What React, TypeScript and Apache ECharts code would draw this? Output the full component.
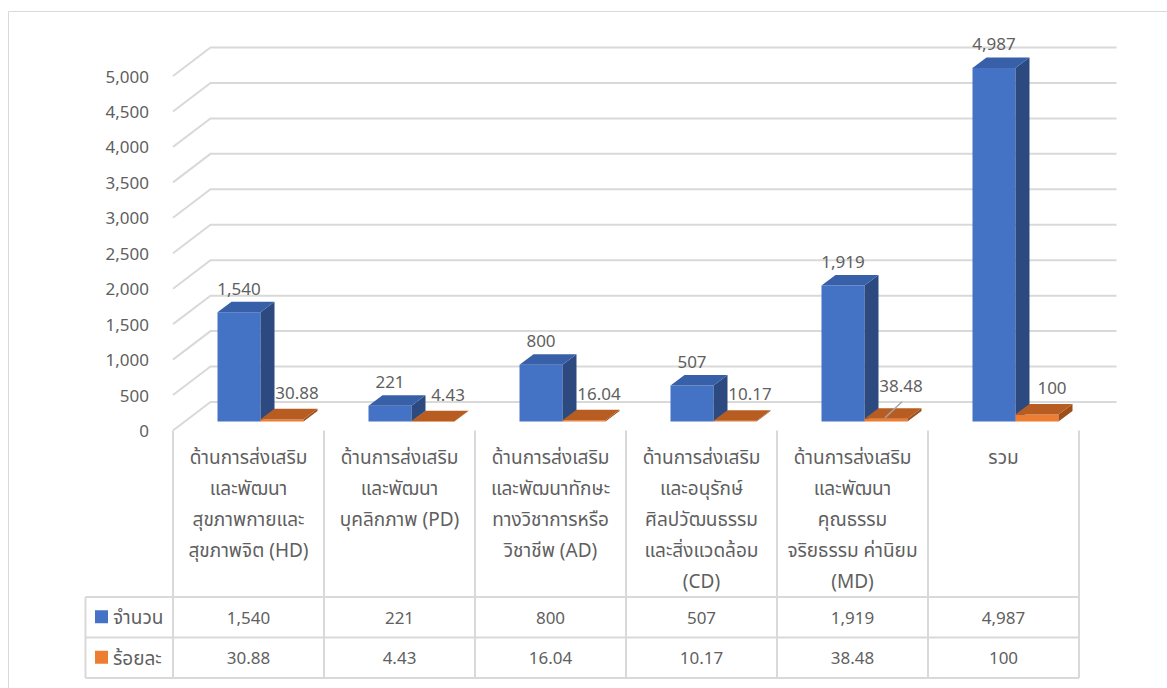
import React, { useEffect, useRef } from "react";
import * as echarts from "echarts";

// ---------- data ----------
const categories = [
  "ด้านการส่งเสริม\nและพัฒนา\nสุขภาพกายและ\nสุขภาพจิต (HD)",
  "ด้านการส่งเสริม\nและพัฒนา\nบุคลิกภาพ (PD)",
  "ด้านการส่งเสริม\nและพัฒนาทักษะ\nทางวิชาการหรือ\nวิชาชีพ (AD)",
  "ด้านการส่งเสริม\nและอนุรักษ์\nศิลปวัฒนธรรม\nและสิ่งแวดล้อม\n(CD)",
  "ด้านการส่งเสริม\nและพัฒนา\nคุณธรรม\nจริยธรรม ค่านิยม\n(MD)",
  "รวม",
];
const seriesNames = ["จำนวน", "ร้อยละ"];
const countValues = [1540, 221, 800, 507, 1919, 4987];
const percentValues = [30.88, 4.43, 16.04, 10.17, 38.48, 100];
const yTicks = [0, 500, 1000, 1500, 2000, 2500, 3000, 3500, 4000, 4500, 5000];
const percentLeader = [false, false, false, false, true, false];

// ---------- layout / style ----------
const W = 1167;
const H = 688;
const GRID_LEFT = 173;
const GRID_TOP = 76;
const GRID_W = 906;
const GRID_H = 354.5;
const GRID_BOTTOM = GRID_TOP + GRID_H;
const WALL_DX = 37.5;
const WALL_DY = -28.5;
const BAR_DX = 12;
const BAR_DY = -9;
const DEPTH_DX = 14;
const DEPTH_DY = -10.5;
const BAR_RATIO = 43 / 151;
const TABLE_LEFT = 85.5;
const TABLE_TOP = 597;
const ROW_H = 40.5;
const TABLE_BOTTOM = TABLE_TOP + 2 * ROW_H;
const LINE = "#d9d9d9";
const TEXT = "#5f5f5f";
const FONT = '"Noto Sans", "Noto Sans Thai", Tahoma, "DejaVu Sans", sans-serif';
const NUM_SIZE = 17;
const THAI_SIZE = 19;
const BLUE = { front: "#4472c4", top: "#3860a8", side: "#2c4a80" };
const ORANGE = { front: "#ed7d31", top: "#b85d22", side: "#9c4f1b" };

const fmt = (v: number) => v.toLocaleString("en-US");

function textEl(x: number, y: number, text: string, align = "center", size = NUM_SIZE) {
  return {
    type: "text",
    x,
    y,
    style: {
      text,
      fill: TEXT,
      fontSize: size,
      fontFamily: FONT,
      align,
      verticalAlign: "middle",
      textAlign: align,
      textVerticalAlign: "middle",
    },
  };
}

function barRenderer(side: number, colors: any, isPercent: boolean) {
  return (params: any, api: any) => {
    const idx = api.value(0);
    const val = api.value(1);
    const base = api.coord([idx, 0]);
    const top = api.coord([idx, val]);
    const bw = api.size([1, 0])[0] * BAR_RATIO;
    const cx = base[0] + BAR_DX;
    const x0 = side === 0 ? cx - bw : cx;
    const x1 = x0 + bw;
    const yb = base[1] + BAR_DY;
    const yt = top[1] + BAR_DY;
    const children: any[] = [
      {
        type: "rect",
        shape: { x: x0, y: yt, width: bw, height: Math.max(yb - yt, 0.5) },
        style: { fill: colors.front },
      },
      {
        type: "polygon",
        shape: {
          points: [
            [x1, yt],
            [x1 + DEPTH_DX, yt + DEPTH_DY],
            [x1 + DEPTH_DX, yb + DEPTH_DY],
            [x1, yb],
          ],
        },
        style: { fill: colors.side },
      },
      {
        type: "polygon",
        shape: {
          points: [
            [x0, yt],
            [x1, yt],
            [x1 + DEPTH_DX, yt + DEPTH_DY],
            [x0 + DEPTH_DX, yt + DEPTH_DY],
          ],
        },
        style: { fill: colors.top },
      },
    ];
    const fc = (x0 + x1) / 2;
    if (!isPercent) {
      children.push(textEl(fc, yt - 24, fmt(val)));
    } else {
      const leader = percentLeader[params.dataIndex];
      const lx = fc + 15;
      const ly = yt - (leader ? 33 : 27);
      children.push(textEl(lx, ly, String(val)));
      if (leader) {
        children.push({
          type: "line",
          shape: { x1: lx + 1, y1: ly + 16, x2: fc - 1, y2: yt - 1 },
          style: { stroke: "#a6a6a6", lineWidth: 1.5 },
        });
      }
    }
    return { type: "group", children };
  };
}

export default function App() {
  const ref = useRef<HTMLDivElement>(null);
  useEffect(() => {
    document.body.style.margin = "0";
    if (!ref.current) return;
    const chart = echarts.init(ref.current, undefined, { renderer: "svg" });

    const colW = GRID_W / categories.length;
    const graphics: any[] = [
      {
        type: "rect",
        shape: { x: 8.5, y: 11.5, width: 1300, height: 800 },
        style: { fill: "none", stroke: LINE, lineWidth: 1 },
        silent: true,
      },
    ];
    [TABLE_TOP, TABLE_TOP + ROW_H, TABLE_BOTTOM].forEach((y) =>
      graphics.push({
        type: "line",
        shape: { x1: TABLE_LEFT, y1: y, x2: GRID_LEFT + GRID_W, y2: y },
        style: { stroke: LINE, lineWidth: 2 },
        silent: true,
      })
    );
    graphics.push({
      type: "line",
      shape: { x1: TABLE_LEFT, y1: TABLE_TOP, x2: TABLE_LEFT, y2: TABLE_BOTTOM },
      style: { stroke: LINE, lineWidth: 2 },
      silent: true,
    });
    for (let i = 0; i <= categories.length; i++) {
      const x = GRID_LEFT + i * colW;
      graphics.push({
        type: "line",
        shape: { x1: x, y1: GRID_BOTTOM, x2: x, y2: TABLE_BOTTOM },
        style: { stroke: LINE, lineWidth: 2 },
        silent: true,
      });
    }
    [BLUE.front, ORANGE.front].forEach((c, i) => {
      const cy = TABLE_TOP + ROW_H * (i + 0.5);
      graphics.push({
        type: "rect",
        shape: { x: 95, y: cy - 7, width: 13, height: 13 },
        style: { fill: c },
        silent: true,
      });
      graphics.push({
        type: "text",
        x: 113,
        y: cy,
        style: {
          text: seriesNames[i],
          fill: TEXT,
          fontSize: THAI_SIZE,
          fontFamily: FONT,
          align: "left",
          verticalAlign: "middle",
          textAlign: "left",
          textVerticalAlign: "middle",
        },
        silent: true,
      });
    });

    chart.setOption({
      animation: false,
      backgroundColor: "#ffffff",
      grid: { left: GRID_LEFT, top: GRID_TOP, width: GRID_W, height: GRID_H },
      xAxis: {
        type: "category",
        data: categories,
        axisLine: { show: false },
        axisTick: { show: false },
        axisLabel: {
          interval: 0,
          margin: 11,
          color: TEXT,
          fontSize: THAI_SIZE,
          fontFamily: FONT,
          lineHeight: 31,
          align: "center",
          verticalAlign: "top",
        },
      },
      yAxis: {
        type: "value",
        min: 0,
        max: 5000,
        interval: 500,
        axisLine: { show: false },
        axisTick: { show: false },
        splitLine: { show: false },
        axisLabel: {
          margin: 24,
          color: TEXT,
          fontSize: NUM_SIZE,
          fontFamily: FONT,
          formatter: (v: number) => fmt(v),
        },
      },
      graphic: graphics,
      series: [
        {
          type: "custom",
          name: "grid",
          silent: true,
          z: 1,
          data: yTicks.map((v) => [0, v]),
          renderItem: (params: any, api: any) => {
            const cs = params.coordSys;
            const y = api.coord([0, api.value(1)])[1];
            return {
              type: "polyline",
              shape: {
                points: [
                  [cs.x, y],
                  [cs.x + WALL_DX, y + WALL_DY],
                  [cs.x + cs.width + WALL_DX, y + WALL_DY],
                ],
              },
              style: { stroke: LINE, lineWidth: 2, fill: "none" },
            };
          },
        },
        {
          type: "custom",
          name: seriesNames[0],
          z: 3,
          data: countValues.map((v, i) => [i, v]),
          renderItem: barRenderer(0, BLUE, false),
        },
        {
          type: "custom",
          name: seriesNames[1],
          z: 4,
          data: percentValues.map((v, i) => [i, v]),
          renderItem: barRenderer(1, ORANGE, true),
        },
        {
          type: "custom",
          name: "table",
          z: 5,
          silent: true,
          data: countValues.map((v, i) => [i, 0]),
          renderItem: (params: any, api: any) => {
            const i = params.dataIndex;
            const x = api.coord([i, 0])[0];
            return {
              type: "group",
              children: [
                textEl(x, TABLE_TOP + ROW_H * 0.5, fmt(countValues[i])),
                textEl(x, TABLE_TOP + ROW_H * 1.5, String(percentValues[i])),
              ],
            };
          },
        },
      ],
    });
    return () => chart.dispose();
  }, []);
  return <div ref={ref} style={{ width: W, height: H }} />;
}
